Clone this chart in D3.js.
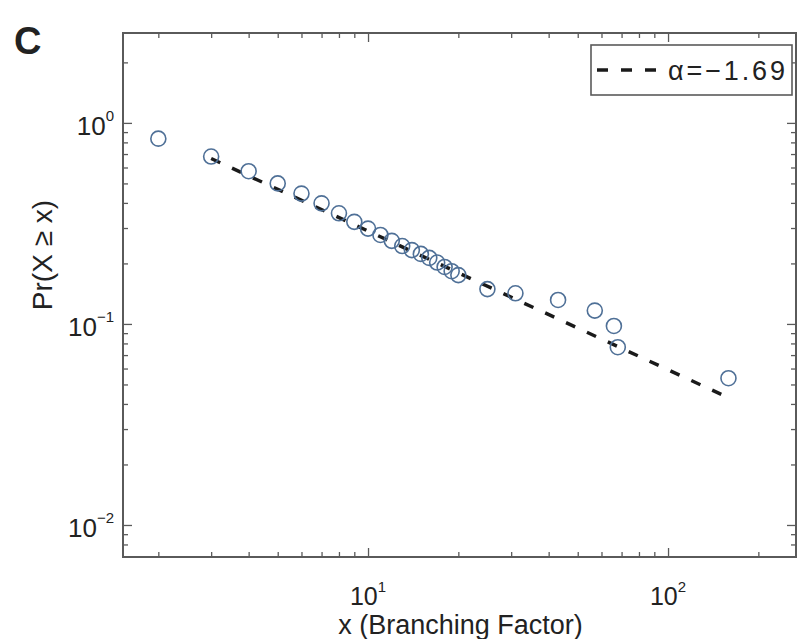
<!DOCTYPE html>
<html>
<head>
<meta charset="utf-8">
<script src="https://cdn.jsdelivr.net/npm/d3@7"></script>
<style>
  body { margin: 0; background: #fff; }
  svg { display: block; }
  text { font-family: "Liberation Sans", Arial, Helvetica, sans-serif; fill: #222; }
</style>
</head>
<body>
<svg id="chart" width="798" height="639"></svg>
<script>
// Complementary cumulative distribution of branching factor
const branching = [2, 3, 4, 5, 6, 7, 8, 9, 10, 11, 12, 13, 14, 15, 16, 17, 18, 19, 20, 25, 31, 43, 57, 66, 68, 159];
const probability = [0.835, 0.68, 0.575, 0.50, 0.445, 0.398, 0.355, 0.322, 0.298, 0.277, 0.259, 0.244, 0.233, 0.223,
                     0.213, 0.202, 0.192, 0.183, 0.175, 0.149, 0.142, 0.1316, 0.1165, 0.0977, 0.0766, 0.0537];

// Power-law fit: Pr(X >= x) ~ x^(alpha + 1)
const fitAlpha = -1.69;
const fitXRange = [3, 158];
const fitProbAtXmin = 0.665;
const legendLabel = "\u03b1=\u22121.69";

// Axis extents and tick labels
const xDomain = [1.525, 267];
const yDomain = [0.00693, 2.8];
const xMajorTicks = [10, 100];
const xTickExponents = ["1", "2"];
const yMajorTicks = [1, 0.1, 0.01];
const yTickExponents = ["0", "\u22121", "\u22122"];
const xMinorTicks = [2, 3, 4, 5, 6, 7, 8, 9, 20, 30, 40, 50, 60, 70, 80, 90, 200];
const yMinorTicks = [0.007, 0.008, 0.009, 0.02, 0.03, 0.04, 0.05, 0.06, 0.07, 0.08, 0.09,
                     0.2, 0.3, 0.4, 0.5, 0.6, 0.7, 0.8, 0.9, 2];

const svg = d3.select("#chart");
const plot = { left: 123, top: 33, right: 796, bottom: 557 };

const x = d3.scaleLog().domain(xDomain).range([plot.left, plot.right]);
const y = d3.scaleLog().domain(yDomain).range([plot.bottom, plot.top]);

const frameColor = "#5a5a5a";

// Inward ticks on all four sides
function ticks(axisFn, scale, values, size, transform) {
  const g = svg.append("g")
    .attr("transform", transform)
    .call(axisFn(scale).tickValues(values).tickSize(-size).tickFormat(() => ""));
  g.select(".domain").remove();
  g.selectAll("line").attr("stroke", frameColor).attr("stroke-width", 1.3);
}
ticks(d3.axisBottom, x, xMajorTicks, 9, `translate(0,${plot.bottom})`);
ticks(d3.axisBottom, x, xMinorTicks, 5, `translate(0,${plot.bottom})`);
ticks(d3.axisTop, x, xMajorTicks, 9, `translate(0,${plot.top})`);
ticks(d3.axisTop, x, xMinorTicks, 5, `translate(0,${plot.top})`);
ticks(d3.axisLeft, y, yMajorTicks, 9, `translate(${plot.left},0)`);
ticks(d3.axisLeft, y, yMinorTicks, 5, `translate(${plot.left},0)`);
ticks(d3.axisRight, y, yMajorTicks, 9, `translate(${plot.right},0)`);
ticks(d3.axisRight, y, yMinorTicks, 5, `translate(${plot.right},0)`);

// Plot frame
svg.append("rect")
  .attr("x", plot.left).attr("y", plot.top)
  .attr("width", plot.right - plot.left).attr("height", plot.bottom - plot.top)
  .attr("fill", "none").attr("stroke", frameColor).attr("stroke-width", 2);

// Tick labels as powers of ten
xMajorTicks.forEach((v, i) => {
  const t = svg.append("text")
    .attr("x", x(v)).attr("y", 605)
    .attr("text-anchor", "middle")
    .attr("font-size", 25);
  t.append("tspan").text("10");
  t.append("tspan").attr("dy", -13).attr("font-size", 15).text(xTickExponents[i]);
});
yMajorTicks.forEach((v, i) => {
  const t = svg.append("text")
    .attr("x", 114).attr("y", y(v) + 12)
    .attr("text-anchor", "end")
    .attr("font-size", 26);
  t.append("tspan").text("10");
  t.append("tspan").attr("dy", -14).attr("font-size", 15).text(yTickExponents[i]);
});

// Axis titles
svg.append("text")
  .attr("x", (plot.left + plot.right) / 2 + 1).attr("y", 634)
  .attr("text-anchor", "middle").attr("font-size", 27)
  .text("x (Branching Factor)");
svg.append("text")
  .attr("transform", `translate(52,255) rotate(-90)`)
  .attr("text-anchor", "middle").attr("font-size", 28)
  .text("Pr(X \u2265 x)");

// Panel letter
svg.append("text")
  .attr("x", 14).attr("y", 54)
  .attr("font-size", 38).attr("font-weight", "bold")
  .attr("fill", "#111")
  .text("C");

// Fitted power law
const fitLine = d3.line().x(d => x(d[0])).y(d => y(d[1]));
const fitPoints = fitXRange.map(v => [v, fitProbAtXmin * Math.pow(v / fitXRange[0], fitAlpha + 1)]);
svg.append("path")
  .attr("d", fitLine(fitPoints))
  .attr("fill", "none").attr("stroke", "#1a1a1a")
  .attr("stroke-width", 3.5).attr("stroke-dasharray", "10,13");

// Observed CCDF markers
svg.append("g").selectAll("circle")
  .data(branching.map((b, i) => [b, probability[i]]))
  .join("circle")
  .attr("cx", d => x(d[0])).attr("cy", d => y(d[1]))
  .attr("r", 7.5)
  .attr("fill", "none").attr("stroke", "#4f7097").attr("stroke-width", 1.6);

// Legend
const legend = svg.append("g");
legend.append("rect")
  .attr("x", 591).attr("y", 45).attr("width", 201).attr("height", 50)
  .attr("fill", "#fff").attr("stroke", frameColor).attr("stroke-width", 1.6);
legend.append("line")
  .attr("x1", 597).attr("x2", 657).attr("y1", 70).attr("y2", 70)
  .attr("stroke", "#1a1a1a").attr("stroke-width", 3.5).attr("stroke-dasharray", "11,13");
legend.append("text")
  .attr("x", 668).attr("y", 80)
  .attr("font-size", 27)
  .attr("textLength", 117).attr("lengthAdjust", "spacing")
  .text(legendLabel);
</script>
</body>
</html>
